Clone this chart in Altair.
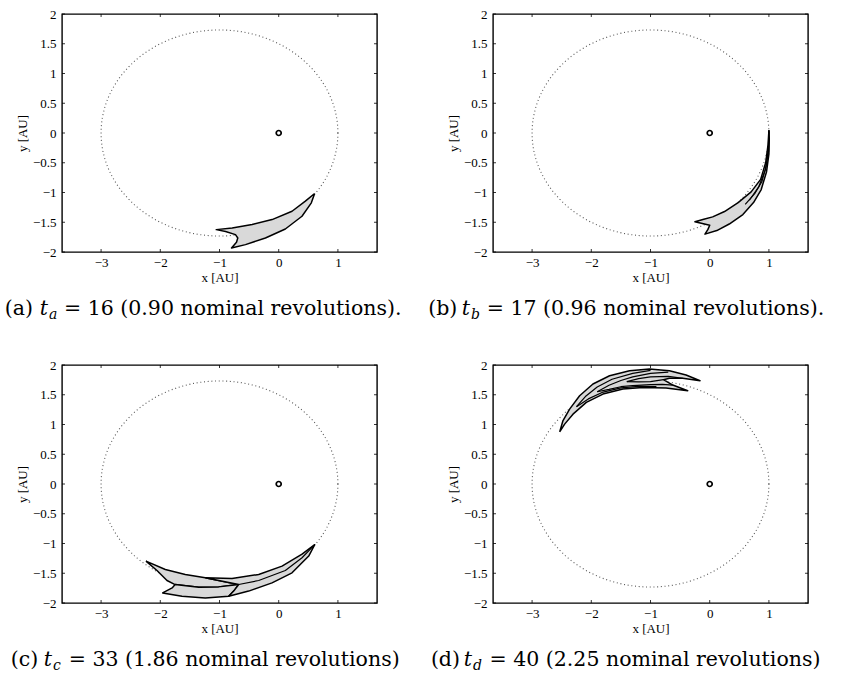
import altair as alt
import numpy as np
import pandas as pd

# ---------------- layout constants ----------------
W, H = 315, 238
SERIF = "Liberation Serif"
CAP_FONT = "DejaVu Serif"
FILL = "#d9d9d9"

# ---------------- axes / data ----------------
X_DOMAIN = [-3.66, 1.66]
Y_DOMAIN = [-2.0, 2.0]
X_TICKS = [-3, -2, -1, 0, 1]
Y_TICKS = [-2, -1.5, -1, -0.5, 0, 0.5, 1, 1.5, 2]

# nominal orbit (Sun at focus): semi-major axis [AU], eccentricity
ORBIT_A = 2.0
ORBIT_E = 0.5
SUN_X = [0.0]
SUN_Y = [0.0]

# panel (a) region outline
A_X = [0.607, 0.45, 0.225, -0.112, -0.449, -0.786, -1.055, -0.898, -0.730, -0.691,
       -0.713, -0.797, -0.561, -0.224, 0.112, 0.393, 0.551, 0.607]
A_Y = [-1.017, -1.146, -1.315, -1.455, -1.539, -1.596, -1.624, -1.657, -1.708, -1.764,
       -1.837, -1.933, -1.876, -1.764, -1.613, -1.399, -1.174, -1.017]

# panel (b) region outline + inner boundaries
B_X = [1.0, 1.006, 1.0, 0.96, 0.87, 0.74, 0.56, 0.33, 0.12, -0.08, -0.03, 0.0, -0.25,
       -0.1, 0.05, 0.25, 0.48, 0.70, 0.86, 0.945, 0.985, 1.0]
B_Y = [0.045, -0.1, -0.35, -0.65, -0.95, -1.17, -1.37, -1.53, -1.64, -1.70, -1.62, -1.55, -1.49,
       -1.45, -1.41, -1.32, -1.17, -0.99, -0.78, -0.5, -0.2, 0.045]
B_L1_X = [1.0, 0.995, 0.94, 0.83, 0.67]
B_L1_Y = [0.045, -0.3, -0.62, -0.9, -1.13]
B_L2_X = [1.0, 0.99, 0.955, 0.88, 0.76, 0.6]
B_L2_Y = [0.045, -0.25, -0.55, -0.82, -1.02, -1.2]

# panel (c) three overlapping pieces + inner boundary
C1_X = [-2.242, -1.915, -1.578, -1.24, -0.95, -0.676, -1.014, -1.35, -1.75, -1.887, -2.056, -2.242]
C1_Y = [-1.296, -1.436, -1.52, -1.577, -1.635, -1.689, -1.729, -1.735, -1.69, -1.622, -1.454, -1.296]
C2_X = [-1.75, -1.80, -1.96, -1.634, -1.24, -0.845, -0.76, -0.676, -1.014, -1.35, -1.75]
C2_Y = [-1.69, -1.746, -1.831, -1.887, -1.915, -1.887, -1.80, -1.689, -1.729, -1.735, -1.69]
C3_X = [-1.24, -0.789, -0.338, 0.056, 0.394, 0.608, 0.507, 0.225, -0.113, -0.507, -0.845,
        -0.76, -0.676, -0.95, -1.24]
C3_Y = [-1.577, -1.588, -1.52, -1.38, -1.18, -1.02, -1.211, -1.493, -1.662, -1.80, -1.887,
        -1.80, -1.689, -1.635, -1.577]
C_L1_X = [-0.676, -0.338, 0.112, 0.394, 0.608]
C_L1_Y = [-1.689, -1.622, -1.453, -1.24, -1.02]

# panel (d) outline + inner strands
D_X = [-2.534, -2.48, -2.366, -2.197, -1.972, -1.691, -1.354, -1.017, -0.68, -0.399, -0.163,
       -0.455, -0.68, -0.781, -0.624, -0.371, -0.737, -1.13, -1.466, -1.803, -2.084, -2.309,
       -2.45, -2.534]
D_Y = [0.876, 1.06, 1.258, 1.483, 1.68, 1.82, 1.904, 1.932, 1.904, 1.831, 1.736,
       1.776, 1.776, 1.753, 1.663, 1.567, 1.612, 1.623, 1.595, 1.511, 1.371, 1.174,
       1.006, 0.876]
D_LA_X = [-2.25, -2.1, -1.9, -1.65, -1.3, -1.0]
D_LA_Y = [1.30, 1.47, 1.63, 1.76, 1.86, 1.91]
D_LB_X = [-1.9, -1.7, -1.5, -1.3, -1.0, -0.7]
D_LB_Y = [1.55, 1.66, 1.74, 1.80, 1.86, 1.88]
D_LC_X = [-1.4, -1.2, -1.0, -0.7, -0.455]
D_LC_Y = [1.72, 1.77, 1.80, 1.81, 1.776]
D_LD_X = [-1.4, -1.2, -1.0, -0.781]
D_LD_Y = [1.72, 1.715, 1.72, 1.753]
D_LE_X = [-1.9, -1.7, -1.5, -1.3, -1.0, -0.8, -0.624]
D_LE_Y = [1.55, 1.59, 1.635, 1.655, 1.67, 1.675, 1.663]
D_LF_X = [-2.25, -2.05, -1.8, -1.5, -1.2, -0.9]
D_LF_Y = [1.30, 1.43, 1.545, 1.615, 1.64, 1.635]

CAPTIONS = {
    "a": ("(a)", "a", "= 16 (0.90 nominal revolutions)."),
    "b": ("(b)", "b", "= 17 (0.96 nominal revolutions)."),
    "c": ("(c)", "c", "= 33 (1.86 nominal revolutions)"),
    "d": ("(d)", "d", "= 40 (2.25 nominal revolutions)"),
}
# caption piece anchors relative to the plot frame (layout)
CAP_POS = {"a": (-29, -14, 2), "b": (-35.7, -23, -6.3),
           "c": (-23.7, -10, 6.7), "d": (-33, -21, -3.5)}
CAP_Y = 301
CAP_SIZE = 20.5

# ---------------- encodings ----------------
x_axis = alt.Axis(values=X_TICKS, format="~g", title="x [AU]", grid=False, domain=False,
                  ticks=False, tickSize=0, labelPadding=4, labelFont=SERIF, labelFontSize=13,
                  labelColor="black", labelFlush=False, labelOverlap=False,
                  titleFont=SERIF, titleFontSize=13, titleFontWeight="normal",
                  titleColor="black", titleY=25, titleBaseline="middle")
y_axis = alt.Axis(values=Y_TICKS, format="~g", title="y [AU]", grid=False, domain=False,
                  ticks=False, tickSize=0, labelPadding=6, labelFont=SERIF, labelFontSize=13,
                  labelColor="black", labelFlush=False, labelOverlap=False,
                  titleFont=SERIF, titleFontSize=13, titleFontWeight="normal",
                  titleColor="black", titleX=-40, titleY=H / 2, titleAngle=270,
                  titleAlign="center", titleBaseline="middle")


def X(f="x"):
    return alt.X(f"{f}:Q", scale=alt.Scale(domain=X_DOMAIN, nice=False, zero=False), axis=x_axis)


def Y(f="y"):
    return alt.Y(f"{f}:Q", scale=alt.Scale(domain=Y_DOMAIN, nice=False, zero=False), axis=y_axis)


def shapes_df(shapes):
    rows = []
    for pid, (xs, ys) in enumerate(shapes):
        for i, (xv, yv) in enumerate(zip(xs, ys)):
            rows.append({"pid": pid, "i": i, "x": xv, "y": yv})
    return pd.DataFrame(rows)


E = np.deg2rad(np.arange(0, 361, 2))
orbit_df = pd.DataFrame({
    "i": np.arange(len(E)),
    "x": -ORBIT_A * ORBIT_E + ORBIT_A * np.cos(E),
    "y": ORBIT_A * np.sqrt(1 - ORBIT_E ** 2) * np.sin(E),
})
sun_df = pd.DataFrame({"x": SUN_X, "y": SUN_Y})
xt_df = pd.DataFrame({"x": X_TICKS})
yt_df = pd.DataFrame({"y": Y_TICKS})


def panel(key, polys, lines, anchor=False):
    layers = []
    layers.append(alt.Chart(orbit_df).mark_line(color="#555555", strokeWidth=1.1,
                                                strokeDash=[1, 2.7]).encode(
        x=X(), y=Y(), order="i:Q"))
    layers.append(alt.Chart(shapes_df(polys)).mark_line(
        color="black", fill=FILL, strokeWidth=1.5, strokeJoin="round").encode(
        x=X(), y=Y(), detail="pid:N", order="i:Q"))
    if lines:
        layers.append(alt.Chart(shapes_df(lines)).mark_line(
            color="black", strokeWidth=1.2, strokeJoin="round").encode(
            x=X(), y=Y(), detail="pid:N", order="i:Q"))
    layers.append(alt.Chart(sun_df).mark_point(shape="circle", filled=False, color="black",
                                               size=25, strokeWidth=1.7, opacity=1).encode(
        x=X(), y=Y()))
    # inward ticks on all four sides
    layers.append(alt.Chart(xt_df).mark_rule(color="black", strokeWidth=0.8).encode(
        x=X(), y=alt.value(H), y2=alt.value(H - 3)))
    layers.append(alt.Chart(xt_df).mark_rule(color="black", strokeWidth=0.8).encode(
        x=X(), y=alt.value(0), y2=alt.value(3)))
    layers.append(alt.Chart(yt_df).mark_rule(color="black", strokeWidth=0.8).encode(
        y=Y(), x=alt.value(0), x2=alt.value(3)))
    layers.append(alt.Chart(yt_df).mark_rule(color="black", strokeWidth=0.8).encode(
        y=Y(), x=alt.value(W), x2=alt.value(W - 3)))
    # caption
    p1, sub, rest = CAPTIONS[key]
    r1, xs, xe = CAP_POS[key]
    layers.append(alt.Chart().mark_text(font=CAP_FONT, fontSize=CAP_SIZE, align="right",
                                        baseline="alphabetic", color="black").encode(
        x=alt.value(r1), y=alt.value(CAP_Y), text=alt.value(p1)))
    layers.append(alt.Chart().mark_text(font=CAP_FONT, fontSize=CAP_SIZE, align="right",
                                        fontStyle="italic", baseline="alphabetic",
                                        color="black").encode(
        x=alt.value(xs), y=alt.value(CAP_Y), text=alt.value("t")))
    layers.append(alt.Chart().mark_text(font=CAP_FONT, fontSize=14, align="left",
                                        fontStyle="italic", baseline="alphabetic",
                                        color="black").encode(
        x=alt.value(xs + 1), y=alt.value(CAP_Y + 4), text=alt.value(sub)))
    layers.append(alt.Chart().mark_text(font=CAP_FONT, fontSize=CAP_SIZE, align="left",
                                        baseline="alphabetic", color="black").encode(
        x=alt.value(xe), y=alt.value(CAP_Y), text=alt.value(rest)))
    if anchor:
        layers.append(alt.Chart().mark_rule(strokeOpacity=0, strokeWidth=0.01).encode(
            x=alt.value(-61), x2=alt.value(-61), y=alt.value(-13), y2=alt.value(-13)))
    return alt.layer(*layers).properties(width=W, height=H)


pa = panel("a", [(A_X, A_Y)], [], anchor=True)
pb = panel("b", [(B_X, B_Y)], [(B_L1_X, B_L1_Y), (B_L2_X, B_L2_Y)])
pc = panel("c", [(C1_X, C1_Y), (C2_X, C2_Y), (C3_X, C3_Y)], [(C_L1_X, C_L1_Y)])
pd_ = panel("d", [(D_X, D_Y)], [(D_LA_X, D_LA_Y), (D_LB_X, D_LB_Y), (D_LC_X, D_LC_Y),
                               (D_LD_X, D_LD_Y), (D_LE_X, D_LE_Y), (D_LF_X, D_LF_Y)])

chart = alt.concat(pa, pb, pc, pd_, columns=2, spacing={"row": 113, "column": 116},
                   bounds="flush").properties(
    padding=0, background="white"
).configure_view(stroke="black", strokeWidth=1.4)

chart.save("out.html", embed_options={"renderer": "svg", "actions": False})
